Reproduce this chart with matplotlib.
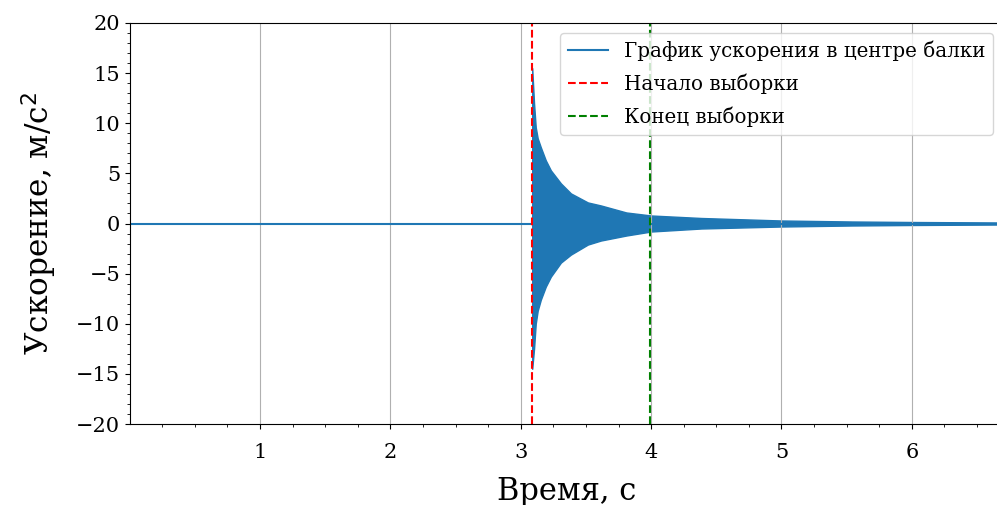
import matplotlib
matplotlib.use("Agg")
import matplotlib.pyplot as plt
from matplotlib.ticker import MultipleLocator

plt.rcParams['font.family'] = ['DejaVu Serif']

# envelope of the decaying acceleration signal
env_t = [3.088, 3.102, 3.115, 3.13, 3.154, 3.192, 3.231, 3.308, 3.385, 3.515, 3.615,
         3.81, 4.0, 4.385, 5.0, 5.54, 6.0, 6.7]
env_upper = [15.5, 12.0, 9.6, 8.5, 7.6, 6.3, 5.3, 4.0, 3.0, 2.1, 1.8,
             1.1, 0.8, 0.55, 0.3, 0.2, 0.15, 0.1]
env_lower = [-14.5, -12.5, -10.0, -8.7, -7.6, -6.3, -5.3, -3.9, -3.1, -2.1, -1.7,
             -1.2, -0.8, -0.5, -0.3, -0.2, -0.15, -0.1]

# flat part of the signal (beam at rest)
rest_t = [0.002, 6.7]
rest_a = [0.0, 0.0]

t_start = 3.085
t_end = 3.995

W, H = 997, 505
fig = plt.figure(figsize=(W / 100, H / 100), dpi=100)
ax = fig.add_axes([130 / W, (H - 424) / H, 873 / W, 401 / H])

ax.plot(rest_t, rest_a, color='tab:blue', lw=1.5, label='График ускорения в центре балки')
ax.fill_between(env_t, env_lower, env_upper, color='tab:blue', lw=1.0, edgecolor='tab:blue')
ax.axvline(t_start, color='red', ls='--', lw=1.5, label='Начало выборки')
ax.axvline(t_end, color='green', ls='--', lw=1.5, label='Конец выборки')

ax.set_xlim(0.002, 6.7)
ax.set_ylim(-20, 20)
ax.xaxis.set_major_locator(MultipleLocator(1))
ax.xaxis.set_minor_locator(MultipleLocator(0.25))
ax.yaxis.set_major_locator(MultipleLocator(5))
ax.yaxis.set_minor_locator(MultipleLocator(1))
ax.tick_params(labelsize=15)
ax.tick_params(axis='x', which='major', pad=10)
ax.grid(axis='x', which='major')

ax.set_xlabel('Время, с', fontsize=22, labelpad=10)
ax.set_ylabel('Ускорение, м/с$^2$', fontsize=22.5, labelpad=12)
ax.legend(loc='upper right', fontsize=14.3, labelspacing=0.62)

fig.savefig('out.png', dpi=100)
